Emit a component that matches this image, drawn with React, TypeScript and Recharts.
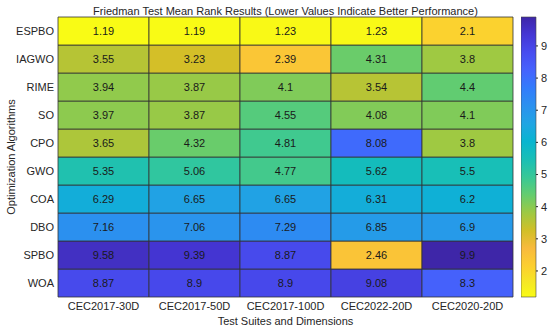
import React from "react";
import { BarChart, Bar, XAxis, YAxis, Cell, LabelList } from "recharts";

const algorithms = ["ESPBO", "IAGWO", "RIME", "SO", "CPO", "GWO", "COA", "DBO", "SPBO", "WOA"];
const suites = ["CEC2017-30D", "CEC2017-50D", "CEC2017-100D", "CEC2022-20D", "CEC2020-20D"];

// mean ranks, one array per suite, in the order of `algorithms`
const cec2017_30D = [1.19, 3.55, 3.94, 3.97, 3.65, 5.35, 6.29, 7.16, 9.58, 8.87];
const cec2017_50D = [1.19, 3.23, 3.87, 3.87, 4.32, 5.06, 6.65, 7.06, 9.39, 8.9];
const cec2017_100D = [1.23, 2.39, 4.1, 4.55, 4.81, 4.77, 6.65, 7.29, 8.87, 8.9];
const cec2022_20D = [1.23, 4.31, 3.54, 4.08, 8.08, 5.62, 6.31, 6.85, 2.46, 9.08];
const cec2020_20D = [2.1, 3.8, 4.4, 4.1, 3.8, 5.5, 6.2, 6.9, 9.9, 8.3];

const colorbarTicks = [2, 3, 4, 5, 6, 7, 8, 9];

const columns = [cec2017_30D, cec2017_50D, cec2017_100D, cec2022_20D, cec2020_20D];
const allValues = columns.flat();
const vMin = Math.min(...allValues);
const vMax = Math.max(...allValues);

// matlab parula, sampled every 4th entry of the 64 colour map: [t, r, g, b]
const PARULA: number[][] = [
  [0 / 63, 0.2422, 0.1504, 0.6603],
  [4 / 63, 0.2706, 0.2147, 0.8364],
  [8 / 63, 0.2813, 0.3006, 0.9414],
  [12 / 63, 0.2699, 0.3892, 0.9906],
  [16 / 63, 0.1963, 0.4847, 0.9892],
  [20 / 63, 0.1687, 0.5703, 0.9359],
  [24 / 63, 0.1248, 0.6459, 0.8883],
  [28 / 63, 0.0297, 0.7082, 0.8163],
  [32 / 63, 0.0964, 0.75, 0.712],
  [36 / 63, 0.2161, 0.7843, 0.5923],
  [40 / 63, 0.3909, 0.8029, 0.4354],
  [44 / 63, 0.6174, 0.7876, 0.2612],
  [48 / 63, 0.8203, 0.7498, 0.1535],
  [52 / 63, 0.9728, 0.7298, 0.2394],
  [56 / 63, 0.9892, 0.8136, 0.1885],
  [60 / 63, 0.9597, 0.9135, 0.1423],
  [63 / 63, 0.9769, 0.9839, 0.0805],
];

const toHex = (r: number, g: number, b: number) =>
  "#" + [r, g, b].map((x) => Math.round(x * 255).toString(16).padStart(2, "0")).join("");

function parula(t: number): string {
  const tt = Math.max(0, Math.min(1, t));
  for (let k = 1; k < PARULA.length; k++) {
    const a = PARULA[k - 1];
    const b = PARULA[k];
    if (tt <= b[0]) {
      const f = (tt - a[0]) / (b[0] - a[0]);
      return toHex(a[1] + (b[1] - a[1]) * f, a[2] + (b[2] - a[2]) * f, a[3] + (b[3] - a[3]) * f);
    }
  }
  const last = PARULA[PARULA.length - 1];
  return toHex(last[1], last[2], last[3]);
}

// low rank -> yellow, high rank -> dark blue (flipped parula)
const cellColor = (v: number) => parula((vMax - v) / (vMax - vMin));

const data = suites.map((suite, c) => {
  const row: any = { suite };
  algorithms.forEach((_, i) => {
    row[`a${i}`] = 1;
    row[`v${i}`] = columns[c][i];
  });
  return row;
});

const rowTicks = algorithms.map((_, i) => i + 0.5);
const textColor = "#262626";

export default function App() {
  // stacked from the bottom, so WOA first
  const order = algorithms.map((_, i) => algorithms.length - 1 - i);

  return (
    <div
      style={{
        position: "absolute",
        left: 0,
        top: 0,
        width: 550,
        height: 330,
        background: "#fff",
        fontFamily: "'Liberation Sans', Arial, sans-serif",
      }}
    >
      <svg width={0} height={0} style={{ position: "absolute" }}>
        <defs>
          <linearGradient id="parulaGrad" x1="0" y1="0" x2="0" y2="1">
            {PARULA.map((p, k) => (
              <stop key={k} offset={p[0]} stopColor={toHex(p[1], p[2], p[3])} />
            ))}
          </linearGradient>
        </defs>
      </svg>

      <div
        style={{
          position: "absolute",
          left: 58,
          width: 455,
          top: 3,
          textAlign: "center",
          fontSize: 11,
          lineHeight: "16px",
          color: textColor,
        }}
      >
        Friedman Test Mean Rank Results (Lower Values Indicate Better Performance)
      </div>

      <div style={{ position: "absolute", left: 0, top: 0 }}>
        <BarChart
          width={550}
          height={330}
          data={data}
          margin={{ top: 17, right: 37, bottom: 0, left: 0 }}
          barCategoryGap={0}
          barGap={0}
        >
          <XAxis
            dataKey="suite"
            height={33}
            axisLine={false}
            tickLine={false}
            tickSize={0}
            tickMargin={5}
            tick={{ fontSize: 11, fill: textColor }}
            label={{
              value: "Test Suites and Dimensions",
              position: "insideBottom",
              offset: 5,
              fontSize: 11,
              fill: textColor,
            }}
          />
          <YAxis
            type="number"
            domain={[0, algorithms.length]}
            ticks={rowTicks}
            tickFormatter={(t: number) => algorithms[algorithms.length - 1 - Math.floor(t)]}
            width={58}
            axisLine={false}
            tickLine={false}
            tickSize={0}
            tickMargin={4}
            tick={{ fontSize: 11, fill: textColor }}
            label={{
              value: "Optimization Algorithms",
              angle: -90,
              position: "insideLeft",
              offset: 11,
              fontSize: 11,
              fill: textColor,
              style: { textAnchor: "middle" },
            }}
          />
          {order.map((i) => (
            <Bar
              key={i}
              dataKey={`a${i}`}
              stackId="heat"
              stroke="#333"
              strokeWidth={0.8}
              isAnimationActive={false}
            >
              {data.map((_, c) => (
                <Cell key={c} fill={cellColor(columns[c][i])} />
              ))}
              <LabelList dataKey={`v${i}`} position="center" fill="#1a1a1a" fontSize={11} />
            </Bar>
          ))}
        </BarChart>
      </div>

      <div style={{ position: "absolute", left: 521, top: 0 }}>
        <BarChart
          width={29}
          height={330}
          data={[{ name: "cb", range: [vMin, vMax] }]}
          margin={{ top: 17, right: 0, bottom: 33, left: 0 }}
          barCategoryGap={0}
        >
          <XAxis dataKey="name" hide />
          <YAxis
            orientation="right"
            type="number"
            domain={[vMin, vMax]}
            ticks={colorbarTicks}
            width={14}
            axisLine={false}
            tickSize={2}
            tickMargin={3}
            tickLine={{ stroke: textColor }}
            tick={{ fontSize: 11, fill: textColor }}
          />
          <Bar
            dataKey="range"
            fill="url(#parulaGrad)"
            stroke="#444"
            strokeWidth={0.6}
            isAnimationActive={false}
          />
        </BarChart>
      </div>
    </div>
  );
}
